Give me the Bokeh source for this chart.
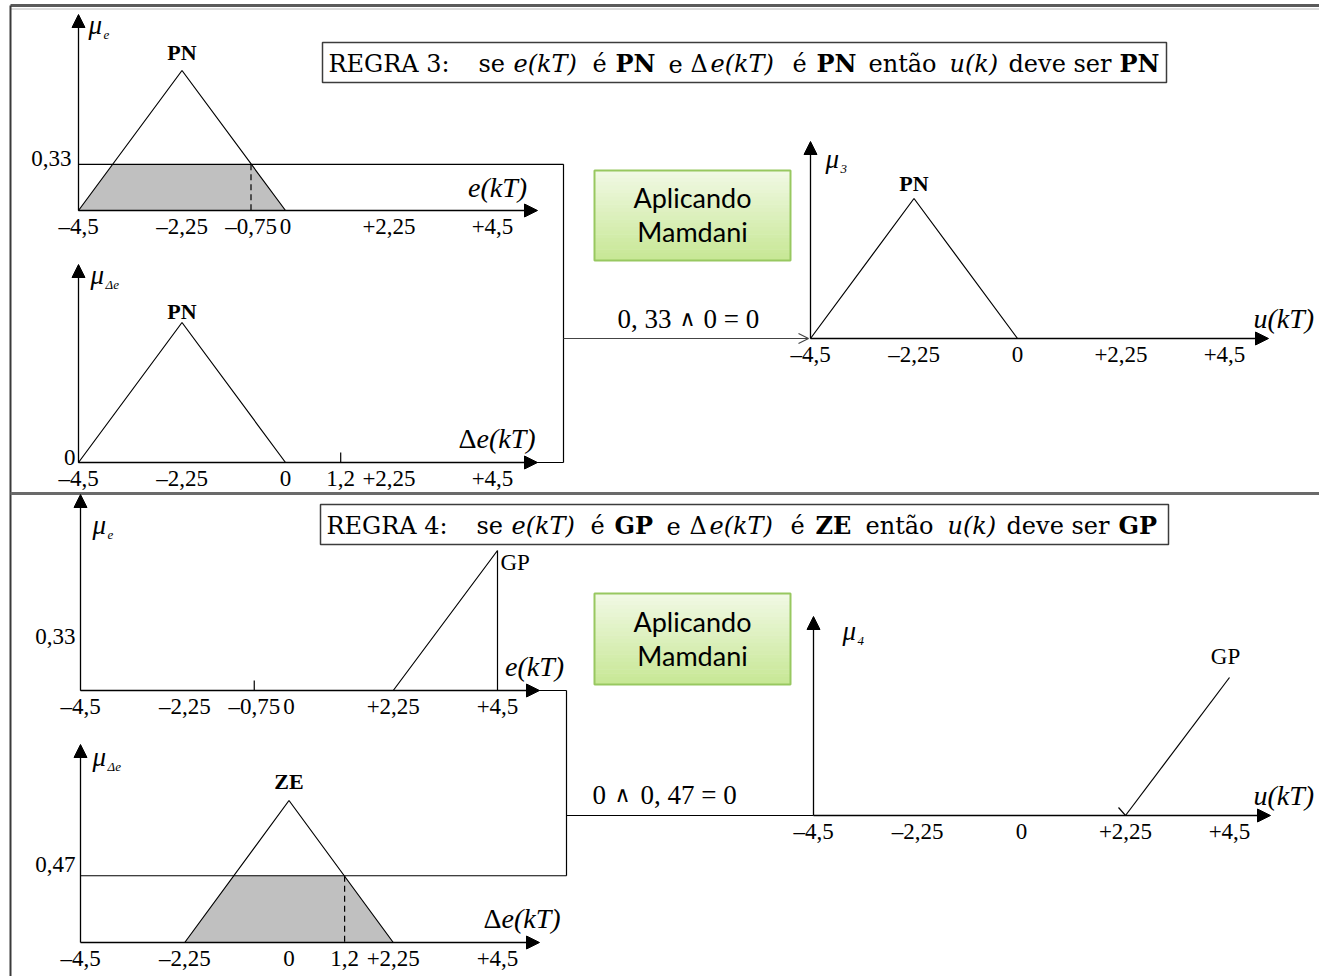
from bokeh.plotting import figure
from bokeh.models import Range1d, Arrow, NormalHead, OpenHead
from bokeh.core.properties import value
from bokeh.embed import file_html
from bokeh.resources import INLINE

W, H = 1319, 976

# ---- universe of discourse and membership functions ----
X_TICKS = [-4.5, -2.25, 0.0, 2.25, 4.5]
X_TICK_LABELS = ["\u20134,5", "\u20132,25", "0", "+2,25", "+4,5"]

PN_X, PN_Y = [-4.5, -2.25, 0.0], [0.0, 1.0, 0.0]
ZE_X, ZE_Y = [-2.25, 0.0, 2.25], [0.0, 1.0, 0.0]
GP_E_X, GP_E_Y = [2.25, 4.5, 4.5], [0.0, 1.0, 0.0]
GP_U_X, GP_U_Y = [2.25, 4.5], [0.0, 1.0]

# crisp inputs and fired degrees
E_IN = -0.75
E_IN_LABEL = "\u20130,75"
DE_IN = 1.2
DE_IN_LABEL = "1,2"
MU_E_R3 = 0.33
MU_E_R3_LABEL = "0,33"
MU_DE_R4 = 0.47
MU_DE_R4_LABEL = "0,47"

SERIF = value("Liberation Serif")
WIDE_SERIF = value("DejaVu Serif")
SANS = value("Lato")

p = figure(width=W, height=H, x_range=Range1d(0, W), y_range=Range1d(H, 0),
           output_backend="svg", toolbar_location=None, min_border=0)
p.axis.visible = False
p.grid.visible = False
p.outline_line_color = None
p.background_fill_color = "white"


class Panel:
    """Small membership plot: x pixel of -4.5 and +4.5, baseline pixel, pixel height of mu=1."""

    def __init__(self, name, xl, xr, yb, h):
        self.name, self.xl, self.yb, self.h = name, xl, yb, h
        self.sx = (xr - xl) / 9.0
        start = -4.5 - xl / self.sx
        p.extra_x_ranges[name] = Range1d(start, start + W / self.sx)
        p.extra_y_ranges[name] = Range1d(-(H - yb) / h, yb / h)

    def px(self, x):
        return self.xl + (x + 4.5) * self.sx

    def py(self, mu):
        return self.yb - mu * self.h

    @property
    def kw(self):
        return dict(x_range_name=self.name, y_range_name=self.name)


def txt(x, y, s, size=20, style="normal", align="center", baseline="middle",
        font=SERIF, color="black"):
    p.text(x=[x], y=[y], text=[s], text_font=font, text_font_size=f"{size}px",
           text_font_style=style, text_align=align, text_baseline=baseline,
           text_color=color)


def seg(x0, y0, x1, y1, color="black", width=1.2, dash="solid"):
    p.line([x0, x1], [y0, y1], line_color=color, line_width=width, line_dash=dash)


def arrow(x0, y0, x1, y1, size=13):
    p.add_layout(Arrow(x_start=x0, y_start=y0, x_end=x1, y_end=y1, line_width=1.3,
                       end=NormalHead(size=size, fill_color="black", line_color="black")))


def rise(xs, mu):
    return xs[0] + mu * (xs[1] - xs[0])


def fall(xs, mu):
    return xs[2] - mu * (xs[2] - xs[1])


def ticks(P, labels_at=None):
    xs = list(X_TICKS) if labels_at is None else labels_at[0]
    ls = list(X_TICK_LABELS) if labels_at is None else labels_at[1]
    for x, l in zip(xs, ls):
        txt(P.px(x), P.yb + 16, l, size=23)


def mu_label(x, y, sub):
    txt(x, y, "\u03bc", size=27, style="italic", align="left")
    txt(x + 15, y + 10, sub, size=13, style="italic", align="left")


# ---- frame ----
seg(10, 5, W, 5, color="#5a5a5a", width=3)
seg(10, 8.5, W, 8.5, color="#b8b8b8", width=1)
seg(10, 5, 10, H, color="#3a3a3a", width=2)
seg(10, 493, W, 493, color="#6a6a6a", width=3)


def rule_box(x0, x1, yc, parts):
    p.quad(left=[x0], right=[x1], top=[yc - 20], bottom=[yc + 20],
           fill_color="white", line_color="#3c3c3c", line_width=1.5)
    for xs, s, style in parts:
        txt(xs, yc + 1, s, size=24, style=style, align="left", font=WIDE_SERIF)


rule_box(322, 1166, 62, [
    (328, "REGRA 3:", "normal"), (478, "se", "normal"), (513, "e(kT)", "italic"),
    (592, "\u00e9", "normal"), (615, "PN", "bold"), (668, "e", "normal"),
    (690, "\u0394", "normal"), (710, "e(kT)", "italic"), (792, "\u00e9", "normal"),
    (816, "PN", "bold"), (868, "ent\u00e3o", "normal"), (949, "u(k)", "italic"),
    (1008, "deve ser", "normal"), (1119, "PN", "bold")])

rule_box(320, 1168, 524, [
    (326, "REGRA 4:", "normal"), (476, "se", "normal"), (511, "e(kT)", "italic"),
    (590, "\u00e9", "normal"), (614, "GP", "bold"), (666, "e", "normal"),
    (689, "\u0394", "normal"), (709, "e(kT)", "italic"), (790, "\u00e9", "normal"),
    (815, "ZE", "bold"), (865, "ent\u00e3o", "normal"), (947, "u(k)", "italic"),
    (1006, "deve ser", "normal"), (1118, "GP", "bold")])


def mamdani_box(x0, x1, y0, y1):
    top_c = (241, 249, 228)
    bot_c = (200, 232, 150)
    n = 24
    for i in range(n):
        t = i / (n - 1)
        c = tuple(int(a + (b - a) * t) for a, b in zip(top_c, bot_c))
        ya = y0 + (y1 - y0) * i / n
        yb = y0 + (y1 - y0) * (i + 1) / n
        p.quad(left=[x0], right=[x1], top=[ya], bottom=[yb + 0.5],
               fill_color="#%02x%02x%02x" % c, line_color=None)
    p.quad(left=[x0], right=[x1], top=[y0], bottom=[y1], fill_color=None,
           line_color="#98c860", line_width=2)
    ym = (y0 + y1) / 2
    txt((x0 + x1) / 2, ym - 18, "Aplicando", size=27, font=SANS)
    txt((x0 + x1) / 2, ym + 16, "Mamdani", size=27, font=SANS)


# =================== RULE 3 ===================
A = Panel("A", 78, 492, 210, 140)     # mu_e
B = Panel("B", 78, 492, 462, 140)     # mu_de
C = Panel("C", 810, 1224, 338, 140)   # mu_3

# e(kT): PN clipped at 0.33
p.patch([PN_X[0], rise(PN_X, MU_E_R3), fall(PN_X, MU_E_R3), PN_X[2]],
        [0, MU_E_R3, MU_E_R3, 0], fill_color="#c0c0c0", line_color=None, **A.kw)
p.line(PN_X, PN_Y, line_color="black", line_width=1.2, **A.kw)
box3_x = 563
seg(A.xl, A.py(MU_E_R3), box3_x, A.py(MU_E_R3))
seg(A.px(E_IN), A.py(MU_E_R3), A.px(E_IN), A.yb, dash="6 4")
seg(A.xl, A.yb, 536, A.yb)
arrow(A.xl, A.yb, 537, A.yb)
arrow(A.xl, A.yb, A.xl, 14)
mu_label(88, 24, "e")
txt(A.px(-2.25), A.py(1) - 18, "PN", size=22, style="bold")
txt(71, A.py(MU_E_R3) - 6, MU_E_R3_LABEL, size=23, align="right")
txt(497, 187, "e(kT)", size=28, style="italic")
ticks(A, ([-4.5, -2.25, E_IN, 0.0, 2.25, 4.5],
          ["\u20134,5", "\u20132,25", E_IN_LABEL, "0", "+2,25", "+4,5"]))

# de(kT): PN
p.line(PN_X, PN_Y, line_color="black", line_width=1.2, **B.kw)
seg(B.xl, B.yb, box3_x, B.yb)
arrow(B.xl, B.yb, 537, B.yb)
arrow(B.xl, B.yb, B.xl, 264)
seg(box3_x, A.py(MU_E_R3), box3_x, B.yb)
seg(B.px(DE_IN), B.yb - 10, B.px(DE_IN), B.yb)
mu_label(90, 274, "\u0394e")
txt(B.px(-2.25), B.py(1) - 11, "PN", size=22, style="bold")
txt(75, B.yb - 5, "0", size=23, align="right")
txt(458, 438, "\u0394", size=28, align="left")
txt(476, 438, "e(kT)", size=28, style="italic", align="left")
ticks(B, ([-4.5, -2.25, 0.0, DE_IN, 2.25, 4.5],
          ["\u20134,5", "\u20132,25", "0", DE_IN_LABEL, "+2,25", "+4,5"]))

mamdani_box(594, 790, 170, 260)

# connector with min operator
p.add_layout(Arrow(x_start=box3_x, y_start=C.yb, x_end=C.xl - 2, y_end=C.yb,
                   line_width=1.2, line_color="#444444",
                   end=OpenHead(size=10, line_width=1.2, line_color="#444444")))
txt(617, 318, "0, 33", size=27, align="left")
txt(679, 318, "\u2227", size=22, align="left", font=WIDE_SERIF)
txt(703, 318, "0 = 0", size=27, align="left")

# u(kT): PN output
p.line(PN_X, PN_Y, line_color="black", line_width=1.2, **C.kw)
arrow(C.xl, C.yb, 1268, C.yb)
arrow(C.xl, C.yb, C.xl, 141)
mu_label(825, 158, "3")
txt(C.px(-2.25), C.py(1) - 15, "PN", size=22, style="bold")
txt(1253, 318, "u(kT)", size=28, style="italic", align="left")
ticks(C)

# =================== RULE 4 ===================
D = Panel("D", 80, 497, 690, 140)     # mu_e
E = Panel("E", 80, 497, 942, 142)     # mu_de
F = Panel("F", 813, 1229, 815, 138)   # mu_4
box4_x = 566

# e(kT): GP
p.line(GP_E_X, GP_E_Y, line_color="black", line_width=1.2, **D.kw)
seg(D.xl, D.yb, box4_x, D.yb)
arrow(D.xl, D.yb, 539, D.yb)
arrow(D.xl, D.yb, D.xl, 494)
seg(D.px(E_IN), D.yb - 10, D.px(E_IN), D.yb)
mu_label(92, 524, "e")
txt(D.px(4.5) + 3, D.py(1) + 12, "GP", size=23, align="left")
txt(75, 636, MU_E_R3_LABEL, size=23, align="right")
txt(534, 666, "e(kT)", size=28, style="italic")
ticks(D, ([-4.5, -2.25, E_IN, 0.0, 2.25, 4.5],
          ["\u20134,5", "\u20132,25", E_IN_LABEL, "0", "+2,25", "+4,5"]))

# de(kT): ZE clipped at 0.47
p.patch([ZE_X[0], rise(ZE_X, MU_DE_R4), fall(ZE_X, MU_DE_R4), ZE_X[2]],
        [0, MU_DE_R4, MU_DE_R4, 0], fill_color="#c0c0c0", line_color=None, **E.kw)
p.line(ZE_X, ZE_Y, line_color="black", line_width=1.2, **E.kw)
seg(E.xl, E.py(MU_DE_R4), box4_x, E.py(MU_DE_R4))
seg(box4_x, D.yb, box4_x, E.py(MU_DE_R4))
seg(E.px(DE_IN), E.py(MU_DE_R4), E.px(DE_IN), E.yb, dash="6 4")
arrow(E.xl, E.yb, 539, E.yb)
arrow(E.xl, E.yb, E.xl, 744)
mu_label(92, 756, "\u0394e")
txt(E.px(0.0), E.py(1) - 19, "ZE", size=22, style="bold")
txt(75, E.py(MU_DE_R4) - 11, MU_DE_R4_LABEL, size=23, align="right")
txt(483, 918, "\u0394", size=28, align="left")
txt(501, 918, "e(kT)", size=28, style="italic", align="left")
ticks(E, ([-4.5, -2.25, 0.0, DE_IN, 2.25, 4.5],
          ["\u20134,5", "\u20132,25", "0", DE_IN_LABEL, "+2,25", "+4,5"]))

mamdani_box(594, 790, 593, 684)

# connector with min operator
seg(box4_x, F.yb, F.xl, F.yb)
txt(592, 794, "0", size=27, align="left")
txt(614, 794, "\u2227", size=22, align="left", font=WIDE_SERIF)
txt(640, 794, "0, 47 = 0", size=27, align="left")

# u(kT): GP output
p.line(GP_U_X, GP_U_Y, line_color="black", line_width=1.2, **F.kw)
seg(F.px(2.25) - 7, F.yb - 8, F.px(2.25), F.yb)
arrow(F.xl, F.yb, 1270, F.yb)
arrow(F.xl, F.yb, F.xl, 616)
mu_label(842, 630, "4")
txt(F.px(4.5) - 4, 656, "GP", size=23)
txt(1253, 795, "u(kT)", size=28, style="italic", align="left")
ticks(F)

open("out.html", "w").write(file_html(p, INLINE))
